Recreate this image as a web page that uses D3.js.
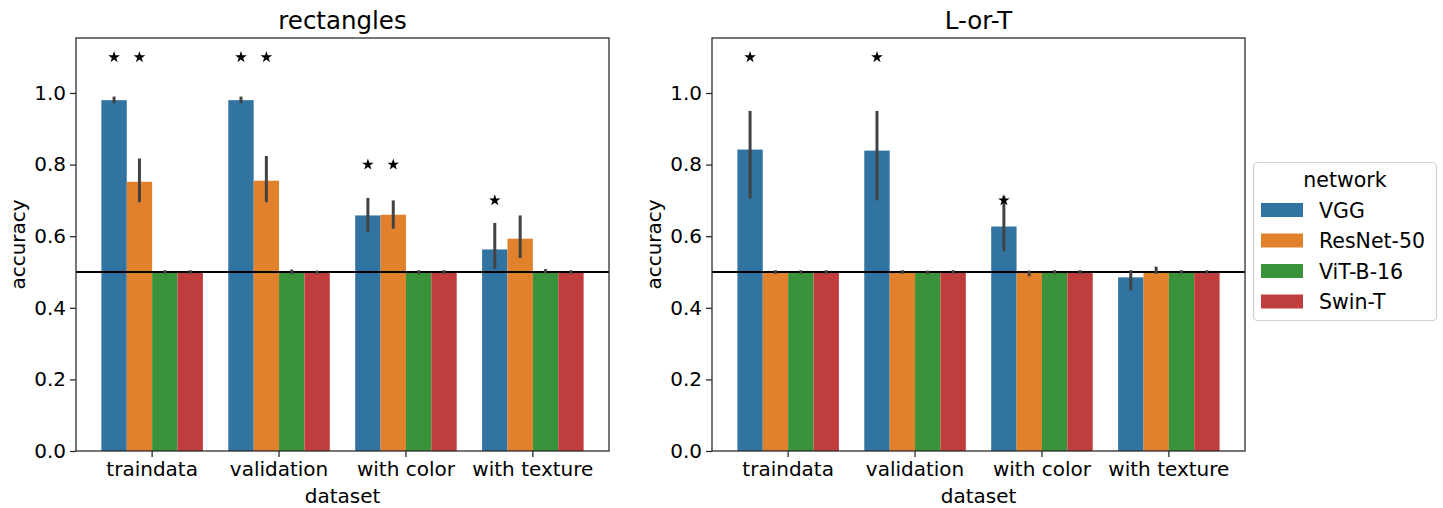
<!DOCTYPE html>
<html>
<head>
<meta charset="utf-8">
<script src="https://cdn.jsdelivr.net/npm/d3@7"></script>
<style>
  body { margin: 0; background: #fff; }
  text { font-family: "DejaVu Sans", sans-serif; fill: #000; }
</style>
</head>
<body>
<svg id="chart" width="1443" height="508"></svg>
<script>
// categories
const datasets = ["traindata", "validation", "with color", "with texture"];
const networks = ["VGG", "ResNet-50", "ViT-B-16", "Swin-T"];
const colors = ["#3274a1", "#e1812c", "#3a923a", "#c03d3e"];
const yTicks = [0, 0.2, 0.4, 0.6, 0.8, 1.0];
const chance = 0.5;

// rectangles: rows = dataset, cols = network
const rectMean = [
  [0.980, 0.752, 0.500, 0.500],
  [0.980, 0.755, 0.500, 0.500],
  [0.658, 0.660, 0.500, 0.500],
  [0.563, 0.593, 0.500, 0.500]
];
const rectLow = [
  [0.971, 0.695, 0.495, 0.495],
  [0.971, 0.695, 0.494, 0.495],
  [0.611, 0.621, 0.494, 0.495],
  [0.509, 0.539, 0.496, 0.495]
];
const rectHigh = [
  [0.990, 0.817, 0.505, 0.505],
  [0.990, 0.824, 0.507, 0.504],
  [0.707, 0.700, 0.505, 0.505],
  [0.637, 0.658, 0.508, 0.505]
];
// significance stars: [dataset index, network index, height]
const rectStars = [[0, 0, 1.1], [0, 1, 1.1], [1, 0, 1.1], [1, 1, 1.1], [2, 0, 0.8], [2, 1, 0.8], [3, 0, 0.7]];

// L-or-T
const lortMean = [
  [0.842, 0.500, 0.500, 0.500],
  [0.839, 0.500, 0.500, 0.500],
  [0.627, 0.500, 0.500, 0.500],
  [0.485, 0.500, 0.500, 0.500]
];
const lortLow = [
  [0.705, 0.495, 0.495, 0.495],
  [0.700, 0.495, 0.494, 0.495],
  [0.558, 0.488, 0.495, 0.495],
  [0.449, 0.495, 0.495, 0.495]
];
const lortHigh = [
  [0.950, 0.505, 0.505, 0.505],
  [0.950, 0.505, 0.504, 0.505],
  [0.712, 0.504, 0.505, 0.505],
  [0.505, 0.515, 0.505, 0.505]
];
const lortStars = [[0, 0, 1.1], [1, 0, 1.1], [2, 0, 0.7]];

const svg = d3.select("#chart");
const plotTop = 38, plotBottom = 451;

function panel(x0, x1, title, mean, low, high, stars) {
  const g = svg.append("g");

  const x = d3.scaleBand().domain(datasets).range([x0, x1])
    .paddingInner(0.2).paddingOuter(0.2);
  const xn = d3.scaleBand().domain(networks).range([0, x.bandwidth()]);
  const y = d3.scaleLinear().domain([0, 1.1536]).range([plotBottom, plotTop]);

  const rows = [];
  datasets.forEach((d, i) => networks.forEach((n, j) => {
    rows.push({ d, n, j, v: mean[i][j], lo: low[i][j], hi: high[i][j] });
  }));

  // bars
  g.selectAll("rect.bar").data(rows).enter().append("rect")
    .attr("class", "bar")
    .attr("x", r => x(r.d) + xn(r.n))
    .attr("width", xn.bandwidth())
    .attr("y", r => y(r.v))
    .attr("height", r => y(0) - y(r.v))
    .attr("fill", r => colors[r.j]);

  // chance line
  g.append("line")
    .attr("x1", x0).attr("x2", x1)
    .attr("y1", y(chance)).attr("y2", y(chance))
    .attr("stroke", "#000").attr("stroke-width", 2);

  // error bars
  g.selectAll("line.err").data(rows).enter().append("line")
    .attr("class", "err")
    .attr("x1", r => x(r.d) + xn(r.n) + xn.bandwidth() / 2)
    .attr("x2", r => x(r.d) + xn(r.n) + xn.bandwidth() / 2)
    .attr("y1", r => y(r.lo))
    .attr("y2", r => y(r.hi))
    .attr("stroke", "#424242")
    .attr("stroke-width", 3);

  // stars
  const star = d3.symbol().type(d3.symbolStar).size(42);
  g.selectAll("path.star").data(stars).enter().append("path")
    .attr("class", "star")
    .attr("d", star)
    .attr("transform", s => "translate(" + (x(datasets[s[0]]) + xn(networks[s[1]]) + xn.bandwidth() / 2) + "," + y(s[2]) + ")")
    .attr("fill", "#000");

  // axes
  const yAxis = g.append("g").attr("transform", "translate(" + x0 + ",0)")
    .call(d3.axisLeft(y).tickValues(yTicks).tickFormat(d3.format(".1f")).tickSize(6).tickPadding(4));
  const xAxis = g.append("g").attr("transform", "translate(0," + plotBottom + ")")
    .call(d3.axisBottom(x).tickSize(6).tickPadding(5));
  [yAxis, xAxis].forEach(a => {
    a.select(".domain").remove();
    a.selectAll("line").attr("stroke", "#262626").attr("stroke-width", 1.25);
    a.selectAll("text").style("font-size", "20px").attr("fill", "#000");
  });

  // frame
  g.append("rect")
    .attr("x", x0).attr("y", plotTop)
    .attr("width", x1 - x0).attr("height", plotBottom - plotTop)
    .attr("fill", "none").attr("stroke", "#262626").attr("stroke-width", 1.25);

  // labels
  g.append("text")
    .attr("x", (x0 + x1) / 2).attr("y", 29)
    .attr("text-anchor", "middle")
    .style("font-size", "24.5px")
    .text(title);
  g.append("text")
    .attr("x", (x0 + x1) / 2).attr("y", 503)
    .attr("text-anchor", "middle")
    .style("font-size", "20px")
    .text("dataset");
  g.append("text")
    .attr("transform", "translate(" + (x0 - 51) + "," + ((plotTop + plotBottom) / 2) + ") rotate(-90)")
    .attr("text-anchor", "middle")
    .style("font-size", "20px")
    .text("accuracy");
}

panel(76, 609, "rectangles", rectMean, rectLow, rectHigh, rectStars);
panel(712, 1245, "L-or-T", lortMean, lortLow, lortHigh, lortStars);

// legend
const lg = svg.append("g");
lg.append("rect")
  .attr("x", 1253.5).attr("y", 162.5).attr("width", 183).attr("height", 158)
  .attr("rx", 4).attr("fill", "#fff").attr("stroke", "#d0d0d0").attr("stroke-width", 1.2);
lg.append("text")
  .attr("x", 1345).attr("y", 187).attr("text-anchor", "middle")
  .style("font-size", "20.5px").text("network");
const item = lg.selectAll("g.item").data(networks).enter().append("g")
  .attr("class", "item")
  .attr("transform", (d, i) => "translate(1261," + (203 + i * 30.5) + ")");
item.append("rect").attr("width", 42).attr("height", 14).attr("fill", (d, i) => colors[i]);
item.append("text").attr("x", 58).attr("y", 14.5).style("font-size", "20.5px").text(d => d);
</script>
</body>
</html>
